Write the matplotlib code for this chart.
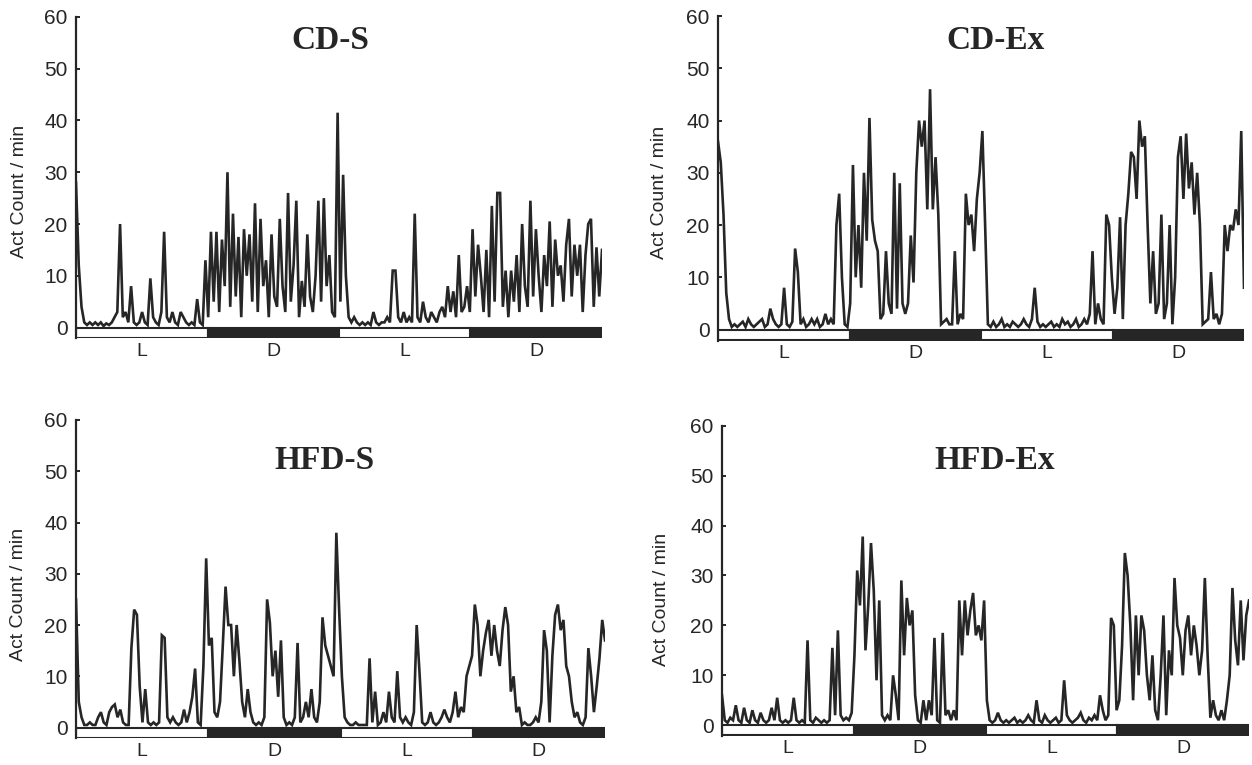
import numpy as np
import matplotlib
matplotlib.use("Agg")
import matplotlib.pyplot as plt

plt.rcParams['font.family'] = ['Liberation Sans', 'DejaVu Sans']

# ---------------- data (activity counts / min, 48 h, 15-min bins) ----------------
cd_s = [
    # L
    28, 12, 4, 1, 0.5, 1, 0.5, 1,
    0.5, 1, 0.3, 0.8, 0.5, 1, 2, 3,
    20, 2, 3, 1, 8, 1, 0.5, 1,
    3, 1, 0.5, 9.5, 2, 1, 0.5, 3,
    18.5, 2, 1, 3, 1, 0.5, 3, 2,
    1, 0.5, 1, 0.5, 5.5, 1, 0.5, 13,
    # D
    2, 18.5, 5, 18.5, 3, 17, 8, 30,
    4, 22, 6, 17.5, 2, 19, 10, 18,
    5, 24, 3, 21, 8, 13, 2, 18,
    6, 4, 21, 8, 3, 26, 5, 12,
    24.5, 2, 9, 4, 18, 6, 3, 10,
    24.5, 5, 25, 8, 14, 3, 2, 41.5,
    # L
    5, 29.5, 10, 2, 1, 2, 1, 0.5,
    1, 0.5, 1, 0.5, 3, 1, 0.5, 1,
    1, 2, 1, 11, 11, 2, 1, 3,
    1, 2, 1, 22, 2, 1, 5, 2,
    1, 3, 2, 1, 3, 4, 2, 8,
    3, 7, 2, 14, 3, 4, 8, 3,
    # D
    19, 6, 16, 10, 3, 15, 2, 23.5,
    5, 26, 26, 4, 11, 2, 11, 5,
    14, 3, 20, 8, 4, 24.5, 6, 19,
    10, 3, 14, 8, 20.5, 4, 17, 10,
    12, 5, 16, 21, 6, 16, 10, 16,
    3, 14, 20, 21, 4, 15.5, 6, 15,
]

cd_ex = [
    # L
    36, 32, 22, 7, 2, 0.5, 1, 0.5,
    1, 1.5, 0.5, 2, 1, 0.5, 1, 1.5,
    2, 0.5, 1, 4, 2, 1, 0.5, 1,
    8, 1, 0.5, 1.5, 15.5, 11, 1, 2,
    0.5, 1, 2, 1, 2, 0.5, 1, 3,
    1, 2, 1, 20, 26, 10, 1, 0.5,
    # D
    5, 31.5, 10, 20, 8, 30, 17, 40.5,
    21, 17, 15, 2, 3, 15, 5, 3,
    30, 4, 28, 5, 3, 5, 18, 9,
    30, 40, 35, 40, 23, 46, 23, 33,
    22, 1, 1.5, 2, 1, 1, 15, 1,
    3, 2, 26, 20, 22, 15, 25, 30,
    # L
    38, 20, 1, 0.5, 1.5, 0.5, 1, 2,
    0.5, 1, 0.5, 1.5, 1, 0.5, 1, 2,
    1, 0.5, 2, 8, 1.5, 0.5, 1, 0.5,
    1, 1.5, 0.5, 1, 0.5, 2, 1, 1.5,
    0.5, 1, 2, 0.5, 1, 2, 1, 3,
    15, 1, 5, 2, 1, 22, 20, 10,
    # D
    3, 8, 21.5, 2, 20, 26, 34, 33,
    25, 40, 35, 37, 20, 5, 15, 3,
    5, 22, 2, 5, 20, 1, 10, 33,
    37, 25, 37.5, 27, 32, 22, 30, 20,
    1, 1.5, 2, 11, 2, 3, 1, 3,
    20, 15, 20, 19, 23, 20, 38, 8,
]

hfd_s = [
    # L
    25, 5, 2, 0.5, 0.5, 1, 0.5, 0.5,
    2, 3, 1, 0.5, 3, 4, 4.5, 2,
    3.5, 1, 0.5, 0.5, 15.5, 23, 22, 8,
    1, 7.5, 1, 0.5, 1, 0.5, 1, 18,
    17.5, 2, 1, 2, 1, 0.5, 1, 3.5,
    1, 3, 6, 11.5, 1, 0.5, 12, 33,
    # D
    16, 17.5, 3, 2, 5, 16, 27.5, 20,
    20, 10, 20, 13, 5, 2, 7.5, 3,
    1, 0.5, 1, 0.5, 2, 25, 20.5, 10,
    15, 6, 17, 2, 0.5, 1, 0.5, 2,
    16.5, 1, 2, 5, 2, 7.5, 2, 1,
    5, 21.5, 16, 14, 12, 10, 38, 23,
    # L
    10, 2, 1, 0.5, 0.5, 1, 0.5, 0.5,
    0.5, 0.5, 13.5, 1, 7, 0.5, 1, 3,
    1, 7, 2, 1, 11, 2, 1, 2,
    1, 0.5, 3, 20, 11, 1, 0.5, 1,
    3, 1, 0.5, 1, 2, 3.5, 2, 1,
    3, 7, 2, 4, 3, 10, 12, 14,
    # D
    24, 20, 10, 15, 18.5, 21, 14, 20,
    15, 12, 19, 23.5, 20, 7, 10, 3,
    4, 0.5, 1, 0.5, 0.5, 1, 2, 1,
    5, 19, 15, 1, 14, 22, 24, 19,
    21, 12, 10, 5, 2, 3, 1, 0.5,
    2, 15.5, 10, 3, 8, 13.5, 21, 17,
]

hfd_ex = [
    # L
    6, 1, 0.5, 1.5, 1, 4, 1, 0.5,
    3.5, 1, 0.5, 3, 1, 0.5, 2.5, 1,
    0.5, 1, 3.5, 1, 5.5, 1, 0.5, 1,
    0.5, 1, 5.5, 1, 0.5, 1, 0.5, 17,
    1, 0.5, 1.5, 1, 0.5, 1, 0.5, 1,
    15.5, 2, 19, 2, 1, 1.5, 1, 2.5,
    # D
    14, 31, 24, 37.8, 15, 24, 36.5, 27,
    9, 25, 2, 1, 2, 1, 10, 6,
    1, 29, 14, 25.5, 20, 23, 6, 1,
    0.5, 5, 1, 5, 2, 17.5, 1, 0.5,
    18.5, 2, 3, 1, 3, 1, 25, 14,
    25, 18, 23, 26.5, 18, 20, 17, 25,
    # L
    5, 1, 0.5, 1, 2.5, 1, 0.5, 1,
    0.5, 1, 1.5, 0.5, 1, 0.5, 1, 2,
    1, 0.5, 5, 1, 0.5, 2, 1, 0.5,
    1, 1.5, 0.5, 1, 9, 2, 1, 0.5,
    1, 1.5, 2.5, 1, 0.5, 1.5, 1, 2,
    1, 6, 3, 1, 2, 21.5, 20, 3,
    # D
    5, 16, 34.5, 30, 20, 5, 22, 10,
    22, 19, 10, 5, 14, 3, 1, 10,
    22, 2, 15, 10, 29.5, 20, 17.5, 10,
    19, 22, 14, 20, 16, 10, 15, 29.5,
    14, 1.5, 5, 2, 1, 3, 1, 5,
    10, 27.5, 17, 12, 25, 13, 22, 25,
]

titles = ["CD-S", "CD-Ex", "HFD-S", "HFD-Ex"]
phases = ["L", "D", "L", "D"]
phase_hours = 12
yticks = [0, 10, 20, 30, 40, 50, 60]
ylabel = "Act Count / min"

# ---------------- layout ----------------
W, H = 1252, 765
fig = plt.figure(figsize=(W / 100, H / 100), dpi=100)
ink = "#262626"

# [left, bottom, width, height] in figure fraction
boxes = [
    [76 / W, 0.5576, 526 / W, 0.4203],
    [718 / W, 0.5549, 526 / W, 0.4241],
    [76 / W, 0.0349, 529 / W, 0.4161],
    [722 / W, 0.0383, 527 / W, 0.4052],
]
title_pos = [(0.483, 0.928), (0.527, 0.926), (0.469, 0.874), (0.518, 0.887)]
ylabel_pos = [(20, 191), (660, 192), (18.5, 594), (662, 599)]

series = [cd_s, cd_ex, hfd_s, hfd_ex]
bar_h = 2.0

for i, vals in enumerate(series):
    ax = fig.add_axes(boxes[i])
    vals = np.asarray(vals, dtype=float)
    t = np.linspace(0, len(phases) * phase_hours, len(vals))
    ax.plot(t, vals, color=ink, lw=1.9, solid_joinstyle='miter', zorder=3)

    starts = np.arange(len(phases)) * phase_hours
    cols = ["white" if p == "L" else ink for p in phases]
    ax.bar(starts, bar_h, bottom=-bar_h, width=phase_hours, align='edge',
           color=cols, edgecolor=ink, linewidth=1.5, zorder=2)
    for s, p in zip(starts, phases):
        ax.text(s + phase_hours / 2, -bar_h - 1.0, p, ha='center', va='top',
                fontsize=14, color=ink)

    ax.set_xlim(0, len(phases) * phase_hours)
    ax.set_ylim(-bar_h - 0.1, 60)
    for side in ["top", "right", "bottom"]:
        ax.spines[side].set_visible(False)
    ax.spines["left"].set_linewidth(1.6)
    ax.spines["left"].set_color(ink)
    ax.set_xticks([])
    ax.set_yticks(yticks)
    ax.tick_params(axis='y', direction='in', length=3, width=1.4, color=ink,
                   labelsize=15, labelcolor=ink, pad=6)
    ax.text(*title_pos[i], titles[i], transform=ax.transAxes, ha='center',
            va='center', fontsize=24, fontweight='bold',
            family=['Liberation Serif', 'DejaVu Serif'], color=ink)
    fig.text(ylabel_pos[i][0] / W, 1 - ylabel_pos[i][1] / H, ylabel,
             rotation=90, ha='center', va='center', fontsize=14, color=ink)

fig.savefig("out.png", dpi=100)
